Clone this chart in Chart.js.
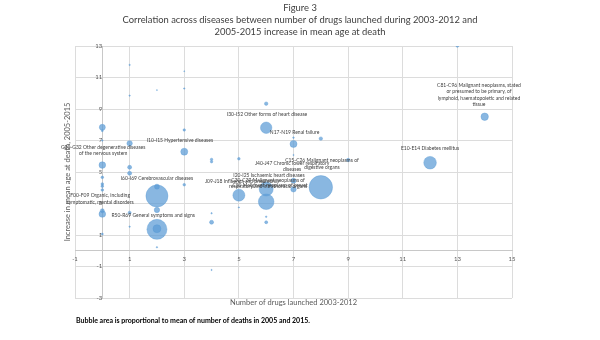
<!DOCTYPE html>
<html>
<head>
<meta charset="utf-8">
<script src="https://cdn.jsdelivr.net/npm/chart.js@4.4.1/dist/chart.umd.min.js"></script>
<style>
html, body { margin: 0; padding: 0; background: #fff; }
#wrap { width: 600px; height: 340px; }
</style>
</head>
<body>
<div id="wrap"><canvas id="chart"></canvas></div>
<script>
// データ
// 2003-2012年の新薬数
var drugs = [0,0,0,0,0,0,0,0,0,0,0,
             1,1,1,1,1,1,1,
             2,2,2,2,2,2,2,
             3,3,3,3,3,
             4,4,4,4,4,
             5,5,5,
             6,6,6,6,6,6,
             7,7,7,7,7,
             8,8,
             9, 12, 13, 14];
// 2005-2015年の平均死亡年齢の上昇
var ageGain = [7.84,7.62,7.0,5.44,4.66,4.24,4.1,3.86,2.54,2.33,1.06,
               11.8,9.85,6.82,5.30,4.92,2.42,1.53,
               10.2,4.07,3.48,2.59,1.36,1.40,0.22,
               11.4,10.3,7.67,6.29,4.19,
               5.80,5.65,2.38,1.81,-1.22,
               5.84,3.53,2.75,
               9.34,7.81,3.92,3.11,2.16,1.81,
               7.18,6.78,6.08,4.45,3.90,
               7.12,4.03,
               5.76, 5.59, 13.0, 8.51];
// 死亡数（2005年と2015年の平均, 相対値）
var deaths = [36,4,2.5,44,7,7,7,7,16,44,4,
              2,2,29,16,16,9,2,
              1,25,484,29,400,64,2,
              1,2,6,49,7,
              6,6,2,16,1.5,
              7,144,1.5,
              12,130,196,243,2.5,9,
              2.5,49,1.5,25,29,
              12,548,
              12, 159, 7, 55];

var xTicks = [-1, 1, 3, 5, 7, 9, 11, 13, 15];
var yTicks = [-3, -1, 1, 3, 5, 7, 9, 11, 13];

// 疾患ラベル（x, y はデータ座標）
var labelText = [
    ["G30-G32 Other degenerative diseases", "of the nervous system"],
    ["I10-I15 Hypertensive diseases"],
    ["I60-I69 Cerebrovascular diseases"],
    ["F00-F09 Organic, including", "symptomatic, mental disorders"],
    ["R50-R69 General symptoms and signs"],
    ["I30-I52 Other forms of heart disease"],
    ["N17-N19 Renal failure"],
    ["J40-J47 Chronic lower respiratory", "diseases"],
    ["C15-C26 Malignant neoplasms of", "digestive organs"],
    ["I20-I25 Ischaemic heart diseases"],
    ["J09-J18 Influenza and pneumonia"],
    ["C30-C39 Malignant neoplasms of", "respiratory and intrathoracic organs"],
    ["C50 Malignant neoplasm of breast"],
    ["E10-E14 Diabetes mellitus"],
    ["C81-C96 Malignant neoplasms, stated", "or presumed to be primary, of", "lymphoid, haematopoietic and related", "tissue"]
];
var labelX = [0.03, 2.84, 2.0, -0.08, 1.86, 6.03, 7.04, 6.95, 8.04, 6.10, 5.11, 6.07, 6.14, 12.0, 13.79];
var labelY = [6.37, 7.03, 4.62, 3.30, 2.27, 8.66, 7.50, 5.36, 5.51, 4.79, 4.38, 4.28, 4.12, 6.48, 9.89];

var FONT = 'Lato, "Liberation Sans", sans-serif';

var points = drugs.map(function (d, i) {
    return { x: d, y: ageGain[i], r: 0.5 * Math.sqrt(deaths[i]) };
});

// 文字をまとめて描くプラグイン
var textPlugin = {
    id: 'texts',
    afterDatasetsDraw: function (chart) {
        var ctx = chart.ctx;
        var xs = chart.scales.x, ys = chart.scales.y;
        ctx.save();
        ctx.fillStyle = '#404040';
        ctx.font = '5px ' + FONT;
        ctx.textAlign = 'center';
        ctx.textBaseline = 'middle';
        labelText.forEach(function (lines, i) {
            var px = xs.getPixelForValue(labelX[i]);
            var py = ys.getPixelForValue(labelY[i]);
            var lh = 6.6;
            var top = py - (lines.length - 1) * lh / 2;
            lines.forEach(function (t, j) {
                ctx.fillText(t, px, top + j * lh);
            });
        });
        ctx.restore();
    },
    afterDraw: function (chart) {
        var ctx = chart.ctx;
        var area = chart.chartArea;
        ctx.save();
        // タイトル
        ctx.fillStyle = '#404040';
        ctx.textAlign = 'center';
        ctx.textBaseline = 'middle';
        ctx.font = '9.4px ' + FONT;
        ctx.fillText('Figure 3', 300, 8);
        ctx.fillText('Correlation across diseases between number of drugs launched during 2003-2012 and', 300, 20);
        ctx.fillText('2005-2015 increase in mean age at death', 300, 31.5);
        // 軸タイトル
        ctx.fillStyle = '#595959';
        ctx.font = '7.5px ' + FONT;
        ctx.fillText('Number of drugs launched 2003-2012', (area.left + area.right) / 2, 303);
        ctx.translate(68, (area.top + area.bottom) / 2);
        ctx.rotate(-Math.PI / 2);
        ctx.fillText('Increase in mean age at death, 2005-2015', 0, 0);
        ctx.restore();
        // 注記
        ctx.save();
        ctx.fillStyle = '#000';
        ctx.font = 'bold 7px ' + FONT;
        ctx.textAlign = 'left';
        ctx.textBaseline = 'middle';
        ctx.fillText('Bubble area is proportional to mean of number of deaths in 2005 and 2015.', 76, 321);
        ctx.restore();
    }
};

new Chart(document.getElementById('chart'), {
    type: 'bubble',
    data: {
        datasets: [{
            data: points,
            backgroundColor: 'rgba(91, 155, 213, 0.72)',
            borderColor: 'rgba(91, 155, 213, 0.8)',
            borderWidth: 0.5
        }]
    },
    options: {
        responsive: true,
        maintainAspectRatio: false,
        animation: false,
        devicePixelRatio: 1,
        layout: { padding: { left: 75, right: 88, top: 46, bottom: 42 } },
        plugins: {
            legend: { display: false },
            tooltip: { enabled: false }
        },
        scales: {
            x: {
                type: 'linear',
                position: { y: 0 },
                min: xTicks[0],
                max: xTicks[xTicks.length - 1],
                afterBuildTicks: function (s) { s.ticks = xTicks.map(function (v) { return { value: v }; }); },
                ticks: { color: '#595959', font: { size: 6, family: FONT }, padding: 2, maxRotation: 0 },
                grid: { color: '#dcdcdc', tickLength: 3 },
                border: { color: '#c8c8c8' }
            },
            y: {
                type: 'linear',
                position: { x: 0 },
                min: yTicks[0],
                max: yTicks[yTicks.length - 1],
                afterBuildTicks: function (s) { s.ticks = yTicks.map(function (v) { return { value: v }; }); },
                ticks: { color: '#595959', font: { size: 6, family: FONT }, padding: 2 },
                grid: { color: '#dcdcdc', tickLength: 3 },
                border: { color: '#c8c8c8' }
            }
        }
    },
    plugins: [textPlugin]
});
</script>
</body>
</html>
